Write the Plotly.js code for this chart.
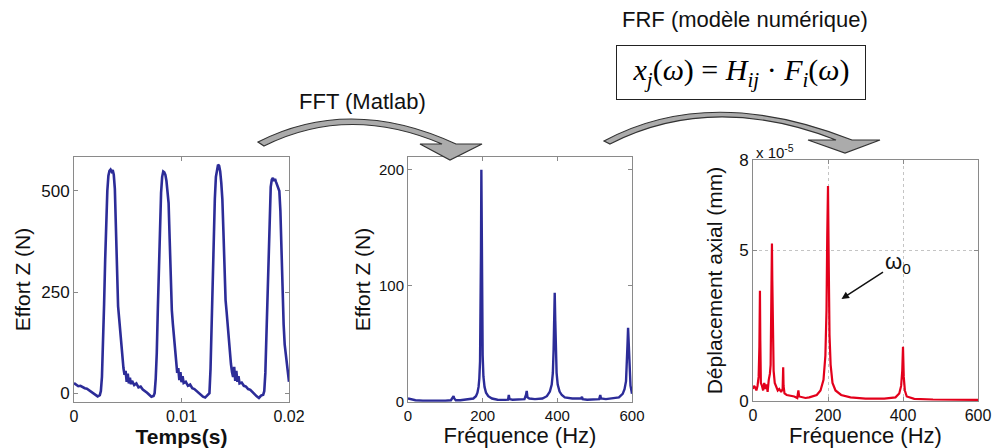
<!DOCTYPE html>
<html>
<head>
<meta charset="utf-8">
<script src="https://cdn.plot.ly/plotly-3.0.1.min.js"></script>
<style>html,body{margin:0;padding:0;background:#fff;}#chart{width:993px;height:448px;}</style>
</head>
<body>
<div id="chart"></div>
<script>
// ---- Left: time signal ----
const timeS = [
 0,0.0002,0.0004,0.0006,0.0008,0.001,0.0012,0.0014,0.0016,0.0018,0.002,0.0022,0.0024,
 0.0025,0.0026,0.0027,0.0028,0.0029,0.003,0.0031,0.0032,0.0033,0.0034,
 0.0035,0.0036,0.0037,0.0038,0.0039,0.004,0.0041,0.0042,0.0043,0.0044,
 0.0045,0.0046,0.0047,0.0048,0.0049,0.005,0.0051,0.0052,0.0053,0.0054,
 0.0056,0.0058,0.006,0.0062,0.0064,0.0066,0.0068,0.007,0.0072,0.0074,
 0.0075,0.0076,0.0077,0.0078,0.0079,0.008,0.0081,0.0082,0.0083,0.0084,
 0.0085,0.0086,0.0087,0.0088,0.0089,0.009,0.0091,0.0092,0.0093,0.0094,
 0.0095,0.0096,0.0097,0.0098,0.0099,0.01,0.0101,0.0102,
 0.0104,0.0106,0.0108,0.011,0.0112,0.0114,0.0116,0.0118,0.012,0.0122,0.0124,
 0.0126,0.0127,0.0128,0.0129,0.013,0.0131,0.0132,0.0133,0.0134,0.0135,
 0.0136,0.0137,0.0138,0.0139,0.014,0.0141,0.0142,0.0143,0.0144,0.0145,
 0.0146,0.0147,0.0148,0.0149,0.015,0.0151,0.0152,0.0153,0.0154,
 0.0156,0.0158,0.016,0.0162,0.0164,0.0166,0.0168,0.017,0.0172,0.0174,
 0.0176,0.0177,0.0178,0.0179,0.018,0.0181,0.0182,0.0183,0.0184,0.0185,
 0.0186,0.0187,0.0188,0.0189,0.019,0.0191,0.0192,0.0193,0.0194,0.0195,
 0.0196,0.0197,0.0198,0.0199,0.02
];
const effortN = [
 25,20,17,18,14,12,11,7,4,1,-4,-8,-5,
 5,40,110,220,330,430,500,538,550,553,
 548,552,540,505,420,290,215,185,150,118,
 88,62,45,55,28,48,24,38,22,30,
 20,24,14,16,9,6,1,-4,-9,-7,
 0,35,100,210,320,420,495,535,548,546,
 540,525,500,470,380,260,205,170,135,100,
 70,50,62,32,52,27,42,25,
 28,18,21,12,10,5,1,-4,-9,-11,-6,
 0,60,170,290,400,480,535,558,565,562,
 548,520,480,400,300,230,200,165,130,100,
 72,52,40,65,30,55,28,42,24,
 26,18,16,10,8,2,-3,-8,-12,-6,
 -4,5,50,150,270,380,460,510,528,532,
 525,530,522,515,508,500,450,330,220,170,
 120,95,70,50,28
];

// ---- Middle: FFT spectrum ----
const freqFFT = [0,5,10,20,40,60,80,100,115,120,122,124,128,140,160,175,182,186,189,191,193,194.5,195.5,196.5,197.5,198.5,200,202,205,209,215,225,240,260,268,270,272,280,300,312,316,318,320,325,340,360,372,380,385,388,390,391.5,393,394.5,396,398,401,406,412,420,440,460,464,466,468,480,500,512,515,517,530,550,565,575,580,584,586,588,589.5,591,593,596,600];
const effortFFT = [3,2.5,2,1.5,1.2,1,1,1.2,1.5,3.5,5,3,1.5,1.5,2,3,5,8,13,20,35,70,130,200,150,80,40,22,13,8,5,3,2,1.8,2,6,2.5,2,2,2.5,6,9.5,4,3,2.5,3,5,9,15,25,45,70,94,70,40,25,15,9,6,4,3,2.5,3,4.5,2.5,2,2,2.5,6,3,2.5,3,4,7,11,18,30,50,64,48,30,14,7];

// ---- Right: FRF displacement (x 1e-5 mm) ----
const freqFRF = [0,3,6,9,12,15,17,18.5,19.5,21,24,27,30,33,36,39,42,45,47,48.5,49.5,50.5,51.5,53,55,58,62,66,70,75,79,80.5,81.5,84,90,100,110,118,121,123,130,140,150,160,170,180,188,193,196,198,200,202,204,207,212,220,235,260,300,350,380,390,395,398,400,402,405,410,430,480,540,600];
const deplFRF = [0.4,0.5,0.45,0.35,0.5,0.8,1.8,3.66,2.0,0.6,0.5,0.35,0.6,0.4,0.55,0.3,0.7,0.9,1.2,2.5,4.5,5.23,4.0,1.8,1.0,0.6,0.45,0.35,0.4,0.3,0.4,1.12,0.5,0.25,0.2,0.18,0.15,0.1,0.35,0.15,0.12,0.1,0.12,0.15,0.2,0.35,0.7,1.5,3.0,5.5,7.14,4.5,2.2,1.2,0.6,0.35,0.2,0.12,0.08,0.08,0.12,0.25,0.5,1.0,1.8,0.8,0.35,0.15,0.07,0.05,0.04,0.04];

const leftXTicks = [0, 0.01, 0.02];
const leftXLabels = ['0', '0.01', '0.02'];
const leftYTicks = [0, 250, 500];
const midYTicks = [0, 100, 200];
const freqTicks = [0, 200, 400, 600];
const rightYTicks = [0, 5, 8];

const W = 993, H = 448;
const px = x => x / W;
const py = y => 1 - y / H;
const P = (x, y) => px(x) + ',' + py(y);

const FONT = 'Liberation Sans, Arial, sans-serif';
const navy = '#2c2c98';
const red = '#e3001b';

function axisBase(extra) {
  return Object.assign({
    showline: true, linecolor: '#8a8a8a', linewidth: 1, mirror: 'ticks',
    ticks: 'inside', ticklen: 4, tickcolor: '#8a8a8a', zeroline: false,
    showgrid: false, fixedrange: true, tickfont: {family: FONT, size: 17, color: '#111'}
  }, extra);
}

const traces = [
  {x: timeS, y: effortN, type: 'scatter', mode: 'lines', line: {color: navy, width: 2.6}, xaxis: 'x', yaxis: 'y', hoverinfo: 'skip'},
  {x: freqFFT, y: effortFFT, type: 'scatter', mode: 'lines', line: {color: navy, width: 2.4}, xaxis: 'x2', yaxis: 'y2', hoverinfo: 'skip'},
  {x: freqFRF, y: deplFRF, type: 'scatter', mode: 'lines', line: {color: red, width: 2.2}, xaxis: 'x3', yaxis: 'y3', hoverinfo: 'skip'}
];

const arrow1 = 'M ' + P(258,142) + ' Q ' + P(350,95) + ' ' + P(456,144) +
  ' L ' + P(482,144) + ' L ' + P(450,160) + ' L ' + P(420,144) + ' L ' + P(442,144) +
  ' Q ' + P(348,104) + ' ' + P(264,146) + ' Z';
const arrow2 = 'M ' + P(604,141) + ' Q ' + P(710,84) + ' ' + P(852,140) +
  ' L ' + P(880,140) + ' L ' + P(845,153) + ' L ' + P(808,140) + ' L ' + P(836,140) +
  ' Q ' + P(712,92) + ' ' + P(610,144) + ' Z';

const layout = {
  width: W, height: H,
  margin: {l: 0, r: 0, t: 0, b: 0},
  paper_bgcolor: '#fff', plot_bgcolor: '#fff',
  showlegend: false,
  font: {family: FONT, color: '#111'},
  xaxis: axisBase({domain: [px(74), px(289)], range: [0, 0.02], tickvals: leftXTicks, ticktext: leftXLabels, anchor: 'y',
    tickfont: {family: FONT, size: 16, color: '#111'},
    title: {text: '<b>Temps(s)</b>', font: {family: FONT, size: 21, color: '#111'}, standoff: 5}}),
  yaxis: axisBase({domain: [py(402), py(157)], range: [-22, 584], tickvals: leftYTicks, anchor: 'x',
    title: {text: 'Effort Z (N)', font: {family: FONT, size: 21, color: '#111'}, standoff: 4}}),
  xaxis2: axisBase({domain: [px(408), px(632)], range: [0, 600], tickvals: freqTicks, anchor: 'y2',
    tickfont: {family: FONT, size: 15, color: '#111'},
    title: {text: 'Fréquence (Hz)', font: {family: FONT, size: 22, color: '#111'}, standoff: 4}}),
  yaxis2: axisBase({domain: [py(402), py(157)], range: [0, 211], tickvals: midYTicks, anchor: 'x2',
    tickfont: {family: FONT, size: 15, color: '#111'},
    title: {text: 'Effort Z (N)', font: {family: FONT, size: 21, color: '#111'}, standoff: 2}}),
  xaxis3: axisBase({domain: [px(753), px(978)], range: [0, 600], tickvals: freqTicks, anchor: 'y3',
    tickfont: {family: FONT, size: 16, color: '#111'},
    showgrid: true, gridcolor: '#c4c4c4', griddash: 'dot', gridwidth: 1,
    title: {text: 'Fréquence (Hz)', font: {family: FONT, size: 22, color: '#111'}, standoff: 4}}),
  yaxis3: axisBase({domain: [py(401), py(160)], range: [0, 8], tickvals: rightYTicks, anchor: 'x3',
    showgrid: true, gridcolor: '#c4c4c4', griddash: 'dot', gridwidth: 1,
    title: {text: 'Déplacement axial (mm)', font: {family: FONT, size: 21, color: '#111'}, standoff: 10}}),
  shapes: [
    {type: 'path', xref: 'paper', yref: 'paper', path: arrow1, fillcolor: '#ababab', line: {color: '#333', width: 1.2}},
    {type: 'path', xref: 'paper', yref: 'paper', path: arrow2, fillcolor: '#ababab', line: {color: '#333', width: 1.2}}
  ],
  annotations: [
    {xref: 'paper', yref: 'paper', x: px(362), y: py(102), text: 'FFT (Matlab)', showarrow: false,
      xanchor: 'center', yanchor: 'middle', font: {family: FONT, size: 22, color: '#111'}},
    {xref: 'paper', yref: 'paper', x: px(745), y: py(19), text: 'FRF (modèle numérique)', showarrow: false,
      xanchor: 'center', yanchor: 'middle', font: {family: FONT, size: 22, color: '#111'}},
    {xref: 'paper', yref: 'paper', x: px(741), y: py(72),
      text: '<i>x</i><sub><i>j</i></sub>(<i>ω</i>) = <i>H</i><sub><i>ij</i></sub> · <i>F</i><sub><i>i</i></sub>(<i>ω</i>)',
      showarrow: false, xanchor: 'center', yanchor: 'middle',
      font: {family: 'Liberation Serif, Times New Roman, serif', size: 30, color: '#000'},
      bordercolor: '#222', borderwidth: 1, borderpad: 3, width: 242, height: 47, bgcolor: '#fff'},
    {xref: 'paper', yref: 'paper', x: px(754), y: py(151), text: 'x 10<sup>-5</sup>', showarrow: false,
      xanchor: 'left', yanchor: 'middle', font: {family: FONT, size: 15, color: '#111'}},
    {xref: 'x3', yref: 'y3', x: 236, y: 3.39, ax: 56, ay: -36, text: 'ω<sub>0</sub>', showarrow: true,
      arrowhead: 2, arrowsize: 1, arrowwidth: 1.5, arrowcolor: '#111',
      font: {family: FONT, size: 22, color: '#111'}}
  ]
};

Plotly.newPlot('chart', traces, layout, {staticPlot: true, displayModeBar: false});
</script>
</body>
</html>
